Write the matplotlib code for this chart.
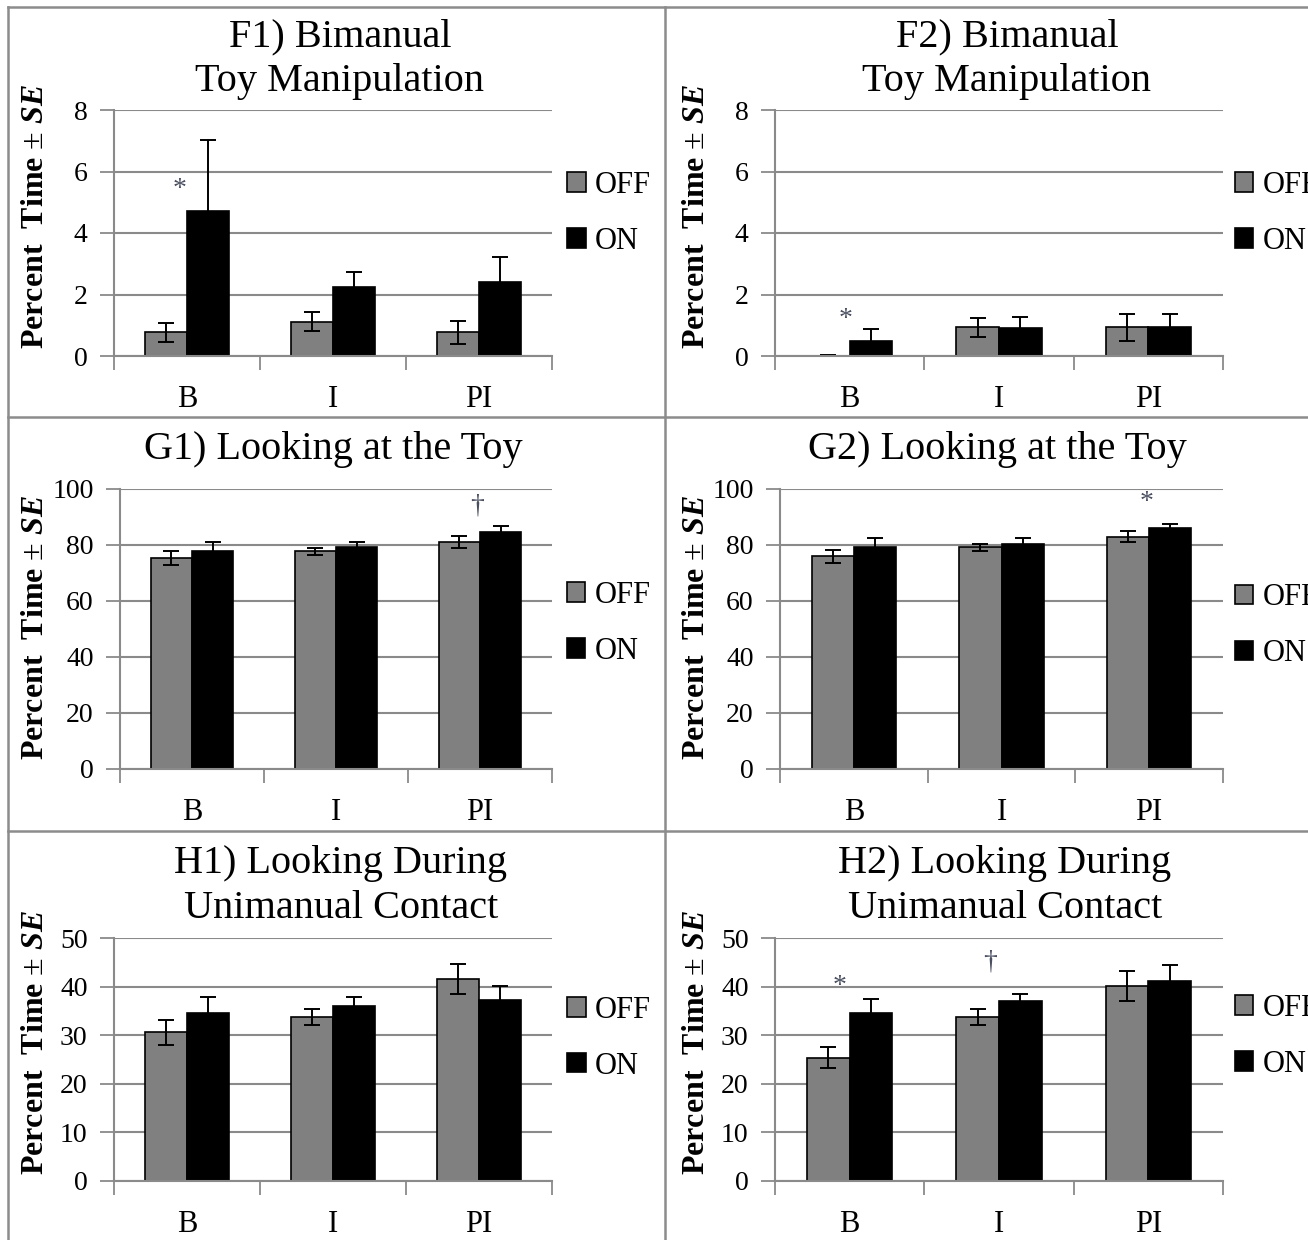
import matplotlib
matplotlib.use('Agg')
import matplotlib.pyplot as plt
from matplotlib.lines import Line2D
import numpy as np

# ---- data ----
categories = ['B', 'I', 'PI']
series = ['OFF', 'ON']

titles = [
    ['F1) Bimanual', 'Toy Manipulation'],
    ['F2) Bimanual', 'Toy Manipulation'],
    ['G1) Looking at the Toy'],
    ['G2) Looking at the Toy'],
    ['H1) Looking During', 'Unimanual Contact'],
    ['H2) Looking During', 'Unimanual Contact'],
]

f1_off = [0.77, 1.12, 0.77]
f1_off_se = [0.30, 0.30, 0.38]
f1_on = [4.73, 2.23, 2.42]
f1_on_se = [2.30, 0.50, 0.80]

f2_off = [0.0, 0.93, 0.93]
f2_off_se = [0.04, 0.30, 0.45]
f2_on = [0.50, 0.92, 0.95]
f2_on_se = [0.37, 0.36, 0.40]

g1_off = [75.3, 77.8, 81.0]
g1_off_se = [2.4, 1.2, 2.2]
g1_on = [77.9, 79.3, 84.7]
g1_on_se = [3.2, 1.7, 2.1]

g2_off = [75.9, 79.2, 83.0]
g2_off_se = [2.3, 1.2, 2.0]
g2_on = [79.4, 80.4, 85.9]
g2_on_se = [3.0, 2.0, 1.5]

h1_off = [30.6, 33.8, 41.5]
h1_off_se = [2.6, 1.6, 3.1]
h1_on = [34.6, 36.1, 37.2]
h1_on_se = [3.2, 1.8, 2.9]

h2_off = [25.4, 33.7, 40.1]
h2_off_se = [2.2, 1.6, 3.1]
h2_on = [34.6, 37.0, 41.2]
h2_on_se = [2.9, 1.5, 3.3]

y_max = [8, 8, 100, 100, 50, 50]
y_step = [2, 2, 20, 20, 10, 10]

# significance marks: panel, category position, value, symbol
mark_panel = [0, 1, 2, 3, 5, 5]
mark_x = [-0.05, -0.03, 1.98, 1.98, -0.07, 0.94]
mark_y = [5.4, 1.2, 94.0, 95.0, 40.0, 45.0]
mark_sym = ['*', '*', '\u2020', '*', '*', '\u2020']

panels = [
    (f1_off, f1_off_se, f1_on, f1_on_se),
    (f2_off, f2_off_se, f2_on, f2_on_se),
    (g1_off, g1_off_se, g1_on, g1_on_se),
    (g2_off, g2_off_se, g2_on, g2_on_se),
    (h1_off, h1_off_se, h1_on, h1_on_se),
    (h2_off, h2_off_se, h2_on, h2_on_se),
]

# ---- styling ----
plt.rcParams['font.family'] = ['Liberation Serif', 'DejaVu Serif']
plt.rcParams['mathtext.fontset'] = 'custom'
plt.rcParams['mathtext.rm'] = 'Liberation Serif'
plt.rcParams['mathtext.bf'] = 'Liberation Serif:bold'
plt.rcParams['mathtext.bfit'] = 'Liberation Serif:italic:bold'
plt.rcParams['mathtext.it'] = 'Liberation Serif:italic'

W, H = 1308, 1240
fig = plt.figure(figsize=(W / 100, H / 100), dpi=100)

# axes boxes in pixels: left, right, top, bottom
boxes = [
    (114, 552, 110, 356), (775, 1223, 110, 356),
    (120, 552, 489, 769), (780, 1223, 489, 769),
    (114, 552, 938, 1181), (775, 1223, 938, 1181),
]
title_x = [340, 1007, 333, 997, 341, 1005]
title_y = [[37, 81], [37, 81], [450], [450], [863, 908], [863, 908]]
legend_x = [1.035, 1.027, 1.035, 1.027, 1.035, 1.027]
legend_y = [0.58, 0.58, 0.52, 0.512, 0.588, 0.596]
ylabel_x = [36, 697, 36, 697, 36, 697]
ylabel_y = [216, 216, 627, 627, 1042, 1042]

grid_c = '#8a8a8a'
off_c = '#808080'
on_c = '#000000'
width = 0.285

axes = []
for i, (l, r, t, b) in enumerate(boxes):
    ax = fig.add_axes([l / W, 1 - b / H, (r - l) / W, (b - t) / H])
    axes.append(ax)
    off, off_se, on, on_se = panels[i]
    x = np.arange(len(categories))
    ax.set_axisbelow(True)
    ax.bar(x - width / 2, off, width, color=off_c, edgecolor='black', linewidth=1.2, label=series[0])
    ax.bar(x + width / 2, on, width, color=on_c, edgecolor='black', linewidth=1.2, label=series[1])
    ax.errorbar(x - width / 2, off, yerr=off_se, fmt='none', ecolor='black', elinewidth=1.4, capsize=5.5, capthick=1.4)
    ax.errorbar(x + width / 2, on, yerr=on_se, fmt='none', ecolor='black', elinewidth=1.4, capsize=5.5, capthick=1.4)

    ax.set_xlim(-0.5, 2.5)
    ax.set_ylim(0, y_max[i])
    ax.set_yticks(np.arange(0, y_max[i] + 0.01, y_step[i]))
    ax.yaxis.grid(True, color=grid_c, linewidth=1.5)
    ax.set_xticks(x)
    ax.set_xticklabels(categories, fontsize=22)
    ax.set_xticks([-0.5, 0.5, 1.5, 2.5], minor=True)
    ax.tick_params(axis='x', which='major', length=0, pad=21)
    ax.tick_params(axis='x', which='minor', length=10, width=1.3, color=grid_c)
    ax.tick_params(axis='y', length=10, width=1.3, color=grid_c, labelsize=20, pad=9)
    for s in ['top', 'right']:
        ax.spines[s].set_visible(False)
    for s in ['left', 'bottom']:
        ax.spines[s].set_color(grid_c)
        ax.spines[s].set_linewidth(1.5)

    ax.legend(loc='center left', bbox_to_anchor=(legend_x[i], legend_y[i]), frameon=False,
              fontsize=22, handlelength=0.6, handleheight=0.6, handletextpad=0.3,
              labelspacing=0.88, borderpad=0, borderaxespad=0)

    for k, line in enumerate(title_y[i]):
        fig.text(title_x[i] / W, 1 - line / H, titles[i][k], fontsize=29,
                 ha='center', va='center')
    fig.text(ylabel_x[i] / W, 1 - ylabel_y[i] / H, r'Percent  Time $\pm$ $\mathbfit{SE}$',
             rotation=90, fontsize=23, fontweight='bold', ha='center', va='center')

for p, mx, my, sym in zip(mark_panel, mark_x, mark_y, mark_sym):
    axes[p].text(mx, my, sym, fontsize=20, color='#4a4f60', ha='center', va='center')

# panel borders
bc = '#8c8c8c'
for (x0, y0, x1, y1) in [(8, 7, 8, H), (8, 7, W, 7), (665, 7, 665, H),
                         (8, 417, W, 417), (8, 831, W, 831)]:
    fig.add_artist(Line2D([x0 / W, x1 / W], [1 - y0 / H, 1 - y1 / H],
                          transform=fig.transFigure, color=bc, linewidth=1.8))

fig.savefig('out.png', dpi=100, facecolor='white')
